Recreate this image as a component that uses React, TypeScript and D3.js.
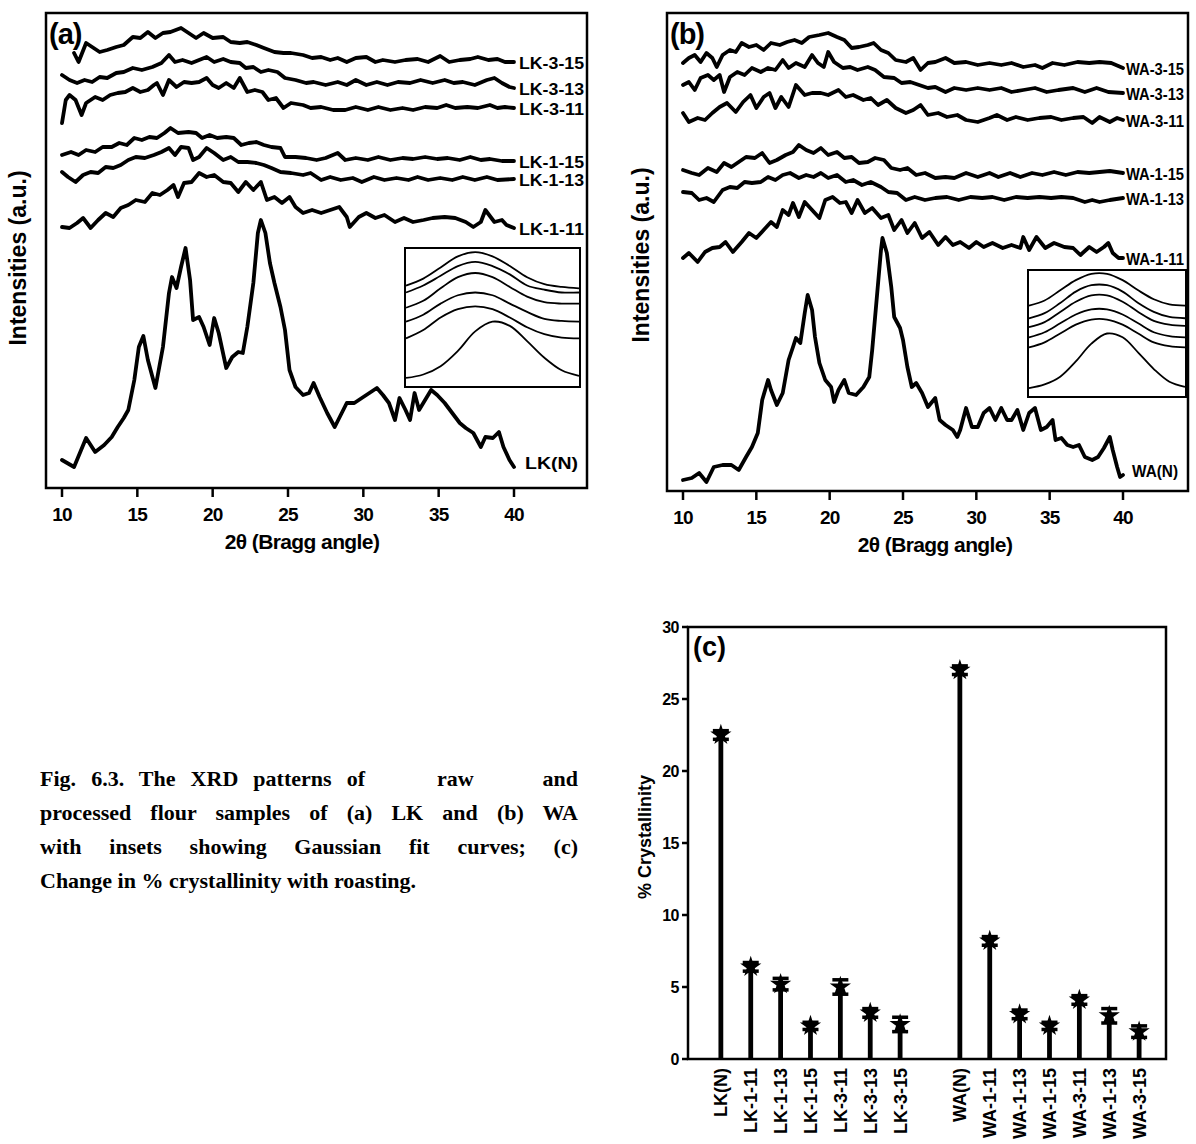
import React, { useEffect, useRef } from "react";
import * as d3 from "d3";

type Pt = [number, number];

// ---------- Panel (a): LK series (2theta, intensity a.u. incl. stacking offset) ----------
const LK_N: Pt[] = [[10.0,28],[10.8,21],[11.6,50],[12.2,36],[12.8,43],[13.3,51],[13.7,61],[14.1,70],[14.4,78],[14.8,108],[15.1,141],[15.4,152],[15.7,128],[16.2,100],[16.7,141],[17.1,195],[17.3,211],[17.6,200],[17.9,221],[18.2,240],[18.5,208],[18.7,168],[19.1,171],[19.4,161],[19.8,143],[20.1,170],[20.4,155],[20.9,120],[21.3,131],[21.7,136],[22.0,135],[22.3,161],[22.7,205],[23.0,255],[23.2,268],[23.5,255],[23.8,225],[24.1,205],[24.5,181],[24.8,158],[25.1,118],[25.5,101],[26.0,93],[26.4,95],[26.7,105],[27.1,91],[27.6,75],[28.1,61],[28.5,73],[28.9,85],[29.4,85],[29.9,90],[30.4,95],[30.9,100],[31.3,93],[31.7,85],[32.1,68],[32.4,90],[32.8,78],[33.1,68],[33.4,95],[33.7,78],[34.1,88],[34.5,98],[34.9,93],[35.4,85],[35.9,75],[36.4,65],[36.8,60],[37.3,55],[37.8,41],[38.1,51],[38.6,50],[39.0,56],[39.3,41],[39.7,28],[40.0,21]];
const LK_1_11: Pt[] = [[10.0,261],[10.5,260],[11.0,265],[11.4,270],[11.9,260],[12.4,268],[12.9,275],[13.4,271],[13.9,280],[14.4,283],[14.9,288],[15.5,286],[16.0,295],[16.5,293],[17.0,298],[17.4,303],[17.7,291],[18.1,305],[18.6,306],[19.1,315],[19.6,311],[20.1,313],[20.7,306],[21.2,305],[21.7,296],[22.2,306],[22.7,298],[23.2,306],[23.6,288],[24.1,291],[24.6,285],[25.1,291],[25.5,281],[26.0,275],[26.6,278],[27.2,275],[27.8,278],[28.4,281],[28.9,271],[29.1,261],[29.7,271],[30.2,275],[30.8,270],[31.4,273],[32.1,266],[32.7,270],[33.3,266],[34.0,268],[34.6,270],[35.4,271],[36.1,270],[36.8,266],[37.3,261],[37.8,266],[38.1,278],[38.7,266],[39.2,268],[39.5,263],[40.0,260]];
const LK_1_13: Pt[] = [[10.0,316],[10.4,311],[10.9,306],[11.4,313],[11.9,316],[12.4,315],[12.9,321],[13.4,320],[13.9,323],[14.4,328],[14.9,331],[15.5,330],[16.1,333],[16.6,336],[17.1,340],[17.5,333],[17.9,341],[18.4,340],[18.7,328],[19.1,331],[19.6,340],[20.1,335],[20.7,328],[21.2,331],[21.7,326],[22.3,326],[22.9,325],[23.4,323],[23.9,320],[24.5,316],[25.2,315],[26.0,313],[26.5,315],[27.2,308],[27.8,311],[28.5,308],[29.3,310],[29.9,306],[30.7,311],[31.4,308],[32.2,310],[33.0,308],[33.6,311],[34.3,308],[35.1,310],[35.9,308],[36.6,311],[37.4,308],[38.2,311],[38.9,308],[40.0,309]];
const LK_1_15: Pt[] = [[10.0,333],[10.6,336],[11.1,333],[11.6,338],[12.2,336],[12.7,341],[13.3,341],[13.8,345],[14.3,343],[14.8,350],[15.3,348],[15.8,351],[16.3,350],[16.8,355],[17.2,360],[17.7,355],[18.4,356],[18.9,355],[19.3,350],[19.8,353],[20.3,350],[20.9,351],[21.4,350],[21.9,343],[22.4,345],[22.9,346],[23.4,343],[23.9,341],[24.5,340],[24.8,331],[25.5,331],[26.2,330],[26.9,328],[27.5,330],[28.3,335],[28.8,328],[29.5,330],[30.3,328],[31.0,331],[31.8,328],[32.6,330],[33.3,329],[34.1,331],[34.9,329],[35.6,330],[36.4,328],[37.1,331],[37.8,328],[38.4,329],[39.2,327],[40.0,327]];
const LK_3_11: Pt[] = [[10.0,365],[10.25,388],[10.5,393],[10.9,388],[11.3,373],[11.6,385],[12.2,391],[12.7,388],[13.2,393],[13.7,395],[14.2,396],[14.7,400],[15.2,396],[15.7,398],[16.1,403],[16.3,405],[16.7,393],[17.1,408],[17.6,401],[18.1,406],[18.6,405],[19.1,406],[19.6,410],[20.0,403],[20.4,400],[20.9,405],[21.4,400],[21.8,410],[22.3,396],[22.8,398],[23.3,396],[23.7,388],[24.2,390],[24.7,380],[25.2,385],[26.0,383],[26.5,380],[27.2,381],[28.0,378],[28.8,378],[29.5,381],[30.3,378],[31.0,381],[31.8,378],[32.6,380],[33.3,378],[34.1,381],[34.9,380],[35.5,383],[36.1,380],[36.9,381],[37.6,380],[38.4,383],[38.9,380],[39.4,381],[40.0,380]];
const LK_3_13: Pt[] = [[10.0,413],[10.5,408],[11.0,405],[11.5,408],[12.0,406],[12.5,411],[13.0,410],[13.6,415],[14.1,416],[14.7,420],[15.3,418],[16.0,421],[16.6,425],[17.1,433],[17.5,426],[18.0,428],[18.6,425],[19.1,428],[19.6,431],[20.1,426],[20.7,429],[21.2,426],[21.8,425],[22.2,420],[22.7,421],[23.2,416],[23.7,418],[24.3,416],[24.8,410],[25.5,408],[26.2,405],[26.7,406],[27.5,403],[28.3,406],[28.9,403],[29.5,408],[30.2,403],[30.9,406],[31.6,403],[32.3,406],[33.1,405],[33.8,408],[34.6,405],[35.4,408],[36.0,405],[36.6,406],[37.4,403],[38.2,408],[38.7,410],[39.2,405],[39.7,401],[40.0,400]];
const LK_3_15: Pt[] = [[10.8,435],[11.1,426],[11.6,445],[12.0,441],[12.5,436],[13.0,438],[13.6,441],[14.1,443],[14.7,451],[15.2,450],[15.7,456],[16.2,450],[16.7,455],[17.2,456],[17.9,460],[18.4,455],[18.9,450],[19.4,455],[20.0,450],[20.7,451],[21.2,446],[21.8,445],[22.3,446],[22.9,443],[23.4,440],[24.1,436],[24.7,435],[25.2,435],[26.0,433],[26.6,430],[27.2,431],[27.8,428],[28.3,430],[28.9,426],[29.5,430],[30.2,431],[30.8,426],[31.3,428],[32.1,426],[32.8,428],[33.6,429],[34.3,426],[35.1,432],[35.7,426],[36.4,428],[37.1,429],[37.6,431],[38.3,428],[38.9,429],[39.4,426],[40.0,426]];

// ---------- Panel (b): WA series ----------
const WA_N: Pt[] = [[10.0,11],[10.6,13],[11.1,18],[11.6,9],[12.1,24],[12.7,26],[13.3,26],[13.8,21],[14.3,34],[14.7,44],[15.1,58],[15.4,91],[15.8,111],[16.0,101],[16.4,86],[16.8,98],[17.2,131],[17.5,144],[17.7,153],[18.0,148],[18.3,178],[18.5,196],[18.8,181],[19.0,154],[19.3,128],[19.7,111],[20.1,104],[20.3,89],[20.6,101],[21.0,111],[21.3,98],[21.8,96],[22.3,104],[22.7,114],[22.9,141],[23.2,191],[23.5,241],[23.6,253],[23.9,238],[24.2,204],[24.4,174],[24.8,163],[25.0,151],[25.3,124],[25.6,104],[25.9,108],[26.3,98],[26.7,84],[27.2,93],[27.5,71],[27.9,66],[28.4,61],[28.7,54],[28.9,61],[29.3,83],[29.7,64],[30.1,64],[30.5,78],[30.9,83],[31.3,71],[31.7,83],[32.1,71],[32.4,71],[32.8,81],[33.2,61],[33.6,78],[34.0,83],[34.4,61],[34.8,64],[35.2,71],[35.4,51],[35.8,53],[36.2,46],[36.6,44],[37.0,46],[37.4,34],[37.9,31],[38.3,34],[38.7,43],[39.1,54],[39.3,41],[39.6,24],[39.8,14],[40.0,16]];
const WA_1_11: Pt[] = [[10.0,233],[10.4,238],[11.0,229],[11.5,239],[12.0,243],[12.5,244],[12.9,249],[13.4,239],[14.0,249],[14.5,258],[15.0,253],[15.5,261],[16.0,269],[16.4,264],[16.8,281],[17.2,276],[17.5,288],[17.9,274],[18.3,289],[18.8,281],[19.3,273],[19.7,291],[20.2,294],[20.7,288],[21.1,289],[21.5,278],[21.9,291],[22.4,278],[22.9,283],[23.5,273],[24.0,276],[24.4,261],[24.9,271],[25.3,258],[25.8,268],[26.3,253],[26.8,259],[27.4,246],[27.9,254],[28.4,246],[28.9,249],[29.5,243],[30.0,249],[30.5,244],[31.1,248],[31.8,243],[32.4,246],[33.0,243],[33.2,254],[33.6,241],[34.1,254],[34.7,243],[35.3,248],[36.0,244],[36.6,243],[37.1,236],[37.7,244],[38.2,239],[38.7,244],[39.0,248],[39.3,238],[39.7,233],[40.0,233]];
const WA_1_13: Pt[] = [[10.0,299],[10.6,298],[11.1,291],[11.6,293],[12.1,289],[12.7,301],[13.2,304],[13.7,303],[14.2,309],[14.7,308],[15.3,309],[15.8,314],[16.3,311],[16.8,316],[17.3,318],[17.9,313],[18.4,316],[18.9,314],[19.4,318],[19.9,313],[20.5,316],[21.1,309],[21.6,311],[22.2,306],[22.8,309],[23.5,304],[24.0,299],[24.6,298],[25.2,291],[25.8,294],[26.5,291],[27.2,293],[28.0,294],[28.8,291],[29.6,294],[30.4,293],[31.1,294],[31.9,291],[32.7,294],[33.5,293],[34.3,294],[35.1,293],[35.8,294],[36.6,293],[37.4,289],[37.9,291],[38.4,289],[39.1,291],[40.0,293]];
const WA_1_15: Pt[] = [[10.0,321],[10.6,318],[11.1,316],[11.7,323],[12.3,319],[12.8,328],[13.3,324],[13.8,329],[14.3,334],[14.9,333],[15.4,338],[15.9,328],[16.4,331],[17.0,336],[17.5,339],[17.9,346],[18.4,341],[18.9,338],[19.4,343],[19.9,336],[20.5,339],[21.0,333],[21.5,334],[22.0,328],[22.6,329],[23.1,333],[23.7,331],[24.2,323],[24.8,321],[25.3,323],[25.9,316],[26.5,318],[27.2,313],[27.9,314],[28.5,313],[29.3,318],[30.1,314],[30.9,318],[31.5,314],[32.3,318],[33.0,314],[33.8,318],[34.5,316],[35.3,319],[36.1,316],[36.9,319],[37.7,318],[38.4,319],[39.1,320],[40.0,318]];
const WA_3_11: Pt[] = [[10.0,378],[10.4,369],[11.0,373],[11.5,371],[12.0,378],[12.5,384],[13.0,388],[13.6,379],[14.1,389],[14.6,396],[15.0,383],[15.5,394],[15.9,398],[16.3,383],[16.7,394],[17.2,384],[17.7,406],[18.3,396],[18.8,398],[19.4,398],[19.9,396],[20.6,401],[21.1,394],[21.6,396],[22.3,391],[22.8,393],[23.3,386],[23.9,391],[24.5,383],[25.2,378],[25.7,381],[26.2,386],[26.7,376],[27.4,378],[28.0,374],[28.7,376],[29.3,371],[30.1,369],[30.9,373],[31.4,376],[32.1,371],[32.7,374],[33.5,371],[34.3,373],[35.1,374],[35.8,371],[36.6,373],[37.3,374],[37.9,368],[38.4,374],[39.1,369],[39.6,373],[40.0,371]];
const WA_3_13: Pt[] = [[10.0,406],[10.4,409],[10.8,401],[11.2,413],[11.7,416],[12.1,411],[12.5,416],[12.8,399],[13.2,414],[13.7,419],[14.2,416],[14.7,423],[15.3,419],[15.8,423],[16.3,421],[16.8,431],[17.2,423],[17.7,428],[18.3,424],[18.8,436],[19.2,428],[19.6,424],[19.9,439],[20.3,429],[20.9,423],[21.4,424],[21.9,421],[22.6,424],[23.1,421],[23.7,414],[24.4,413],[24.9,408],[25.5,409],[26.1,406],[26.7,403],[27.2,404],[27.9,399],[28.5,403],[29.3,401],[30.1,403],[30.9,401],[31.7,403],[32.4,399],[33.2,401],[34.0,403],[34.8,399],[35.6,401],[36.6,403],[37.4,399],[38.2,403],[39.0,399],[40.0,398]];
const WA_3_15: Pt[] = [[10.0,428],[10.4,433],[10.8,436],[11.2,429],[11.6,438],[12.0,433],[12.3,424],[12.7,436],[13.2,441],[13.6,439],[14.0,448],[14.5,444],[15.0,446],[15.5,441],[16.0,448],[16.6,446],[17.1,449],[17.6,451],[18.1,448],[18.6,454],[19.3,456],[19.9,458],[20.5,454],[21.0,451],[21.5,443],[22.0,444],[22.6,446],[23.0,448],[23.5,441],[24.0,438],[24.5,431],[25.2,429],[25.7,433],[26.2,421],[26.7,428],[27.2,429],[27.9,433],[28.5,428],[29.3,429],[30.1,426],[30.9,428],[31.7,426],[32.4,428],[33.2,424],[34.0,426],[34.5,423],[35.2,428],[36.0,426],[36.9,429],[37.7,428],[38.4,429],[39.2,428],[40.0,423]];

const LK_SERIES = [
  { name: "LK-3-15", data: LK_3_15 },
  { name: "LK-3-13", data: LK_3_13 },
  { name: "LK-3-11", data: LK_3_11 },
  { name: "LK-1-15", data: LK_1_15 },
  { name: "LK-1-13", data: LK_1_13 },
  { name: "LK-1-11", data: LK_1_11 },
  { name: "LK(N)", data: LK_N },
];
const WA_SERIES = [
  { name: "WA-3-15", data: WA_3_15 },
  { name: "WA-3-13", data: WA_3_13 },
  { name: "WA-3-11", data: WA_3_11 },
  { name: "WA-1-15", data: WA_1_15 },
  { name: "WA-1-13", data: WA_1_13 },
  { name: "WA-1-11", data: WA_1_11 },
  { name: "WA(N)", data: WA_N },
];

const X_TICKS = [10, 15, 20, 25, 30, 35, 40];

// ---------- Insets: Gaussian fit curves (relative position 0-100, a.u.) ----------
const INSET_X = [0, 10, 20, 30, 40, 50, 60, 70, 80, 90, 100];
const LK_INSET = [
  [73, 78, 86, 94, 97, 94, 87, 79, 74, 72, 71],
  [68, 73, 80, 87, 90, 87, 81, 73, 70, 68, 68],
  [57, 62, 71, 79, 82, 79, 72, 65, 61, 60, 60],
  [47, 52, 60, 66, 68, 66, 60, 54, 49, 47.5, 47],
  [35, 41, 50, 56, 58, 56, 50, 43, 38, 35.5, 35],
  [6.5, 9, 15, 26, 40, 47, 44, 33, 21, 12, 8],
];
const WA_INSET = [
  [72, 76, 84, 92, 97, 97, 92, 84, 77, 73, 72],
  [62, 66, 74, 83, 88, 88, 83, 74, 67, 63, 62],
  [55, 59, 67, 75, 80, 80, 75, 67, 60, 57, 56],
  [47, 51, 58, 65, 69, 69, 65, 58, 51, 48, 47],
  [39, 43, 50, 57, 61, 61, 57, 50, 43, 40, 39],
  [7, 10, 16, 28, 42, 50, 47, 35, 22, 12, 8],
];

// ---------- Panel (c): % crystallinity ----------
const CATEGORIES = ["LK(N)", "LK-1-11", "LK-1-13", "LK-1-15", "LK-3-11", "LK-3-13", "LK-3-15", "WA(N)", "WA-1-11", "WA-1-13", "WA-1-15", "WA-3-11", "WA-1-13", "WA-3-15"];
const CRYSTALLINITY = [22.5, 6.4, 5.2, 2.3, 5.0, 3.2, 2.4, 27.0, 8.2, 3.1, 2.3, 4.1, 3.0, 1.9];
const CRYST_ERR = [0.3, 0.3, 0.4, 0.25, 0.5, 0.3, 0.5, 0.3, 0.3, 0.3, 0.25, 0.3, 0.5, 0.4];
const Y_TICKS_C = [0, 5, 10, 15, 20, 25, 30];

const SANS = "'Liberation Sans', Arial, sans-serif";
const SERIF = "'Liberation Serif', 'Times New Roman', serif";

type PanelProps = {
  left: number; right: number; top: number; bottom: number;
  x10: number; x40: number; yMax: number;
  series: { name: string; data: Pt[] }[];
  letter: string;
  inset: { l: number; r: number; t: number; b: number; curves: number[][] };
  titleX: number; yTitleX: number; yTitleY: number;
  labelX: number; labelW: number;
};

function XrdPanel(p: PanelProps) {
  const x = d3.scaleLinear().domain([10, 40]).range([p.x10, p.x40]);
  const y = d3.scaleLinear().domain([0, p.yMax]).range([p.bottom, p.top]);
  const line = d3.line<Pt>().x((d) => x(d[0])).y((d) => y(d[1])).curve(d3.curveLinear);
  const ix = d3.scaleLinear().domain([0, 100]).range([p.inset.l + 1, p.inset.r - 1]);
  const iy = d3.scaleLinear().domain([0, 100]).range([p.inset.b, p.inset.t]);
  const iline = d3.line<number>().x((_, i) => ix(INSET_X[i])).y((d) => iy(d)).curve(d3.curveCatmullRom);
  return (
    <g>
      {p.series.map((s) => (
        <path key={s.name} d={line(s.data) || ""} fill="none" stroke="#000" strokeWidth={3.8} strokeLinejoin="round" strokeLinecap="round" />
      ))}
      {p.series.map((s) => {
        const last = s.data[s.data.length - 1];
        const isN = s.name.includes("(N)");
        return (
          <text key={"l" + s.name} x={isN ? p.labelX + 6 : p.labelX} y={y(last[1]) + (isN ? -2 : 3)} dominantBaseline="middle"
            fontFamily={SANS} fontWeight="bold" fontSize={isN ? 17 : 16} textLength={isN ? p.labelW - 12 : p.labelW} lengthAdjust="spacingAndGlyphs">
            {s.name}
          </text>
        );
      })}
      {/* inset */}
      <rect x={p.inset.l} y={p.inset.t} width={p.inset.r - p.inset.l} height={p.inset.b - p.inset.t} fill="#fff" stroke="#000" strokeWidth={2} />
      {p.inset.curves.map((c, i) => (
        <path key={"i" + i} d={iline(c) || ""} fill="none" stroke="#000" strokeWidth={1.8} />
      ))}
      {/* frame */}
      <rect x={p.left} y={p.top} width={p.right - p.left} height={p.bottom - p.top} fill="none" stroke="#000" strokeWidth={2.5} />
      {X_TICKS.map((t) => (
        <g key={t}>
          <line x1={x(t)} x2={x(t)} y1={p.bottom} y2={p.bottom + 9} stroke="#000" strokeWidth={2.5} />
          <text x={x(t)} y={p.bottom + 33} textAnchor="middle" fontFamily={SANS} fontWeight="bold" fontSize={19} letterSpacing={-0.8}>{t}</text>
        </g>
      ))}
      <text x={p.titleX} y={p.bottom + 61} textAnchor="middle" fontFamily={SANS} fontWeight="bold" fontSize={21} letterSpacing={-0.6}>2θ (Bragg angle)</text>
      <text transform={`translate(${p.yTitleX},${p.yTitleY}) rotate(-90)`} textAnchor="middle" dominantBaseline="middle" fontFamily={SANS} fontWeight="bold" fontSize={23}>Intensities (a.u.)</text>
      <text x={p.left + 3} y={p.top + 31} fontFamily={SANS} fontWeight="bold" fontSize={29} letterSpacing={-1}>{p.letter}</text>
    </g>
  );
}

function CrystPanel() {
  const left = 688, right = 1166, top = 627, bottom = 1059;
  const slot = (i: number) => i + (i >= 7 ? 1 : 0);
  const x = d3.scaleLinear().domain([-1.1, 14.9]).range([left, right]);
  const y = d3.scaleLinear().domain([0, 30]).range([bottom, top]);
  const star = d3.symbol().type(d3.symbolStar).size(140)() || "";
  return (
    <g>
      {CRYSTALLINITY.map((v, i) => {
        const cx = x(slot(i));
        const e = CRYST_ERR[i];
        return (
          <g key={i}>
            <line x1={cx} x2={cx} y1={y(0)} y2={y(v)} stroke="#000" strokeWidth={4.8} />
            <line x1={cx} x2={cx} y1={y(v - e)} y2={y(v + e)} stroke="#000" strokeWidth={3} />
            <line x1={cx - 8} x2={cx + 8} y1={y(v + e)} y2={y(v + e)} stroke="#000" strokeWidth={3.5} />
            <line x1={cx - 8} x2={cx + 8} y1={y(v - e)} y2={y(v - e)} stroke="#000" strokeWidth={3.5} />
            <path d={star} transform={`translate(${cx},${y(v)})`} fill="#000" />
            <text transform={`translate(${cx + 6.5},${bottom + 9}) rotate(-90)`} textAnchor="end" fontFamily={SANS} fontWeight="bold" fontSize={18}>{CATEGORIES[i]}</text>
          </g>
        );
      })}
      <rect x={left} y={top} width={right - left} height={bottom - top} fill="none" stroke="#000" strokeWidth={2.5} />
      {Y_TICKS_C.map((t) => (
        <g key={t}>
          <line x1={left - 6} x2={left} y1={y(t)} y2={y(t)} stroke="#000" strokeWidth={2.5} />
          <text x={left - 9} y={y(t) + 6} textAnchor="end" fontFamily={SANS} fontWeight="bold" fontSize={16} letterSpacing={-0.5}>{t}</text>
        </g>
      ))}
      <text transform={`translate(646,837) rotate(-90)`} textAnchor="middle" dominantBaseline="middle" fontFamily={SANS} fontWeight="bold" fontSize={18}>% Crystallinity</text>
      <text x={left + 5} y={top + 29} fontFamily={SANS} fontWeight="bold" fontSize={27}>(c)</text>
    </g>
  );
}

export default function App() {
  const capRef = useRef<SVGGElement>(null);
  useEffect(() => {
    document.body.style.margin = "0";
    const g = capRef.current;
    if (!g) return;
    g.querySelectorAll("text[data-w]").forEach((node) => {
      const t = node as SVGTextElement;
      const target = Number(t.getAttribute("data-w"));
      const n = (t.textContent || "").split(" ").length - 1;
      t.setAttribute("word-spacing", "0");
      const w = t.getComputedTextLength();
      if (n > 0) t.setAttribute("word-spacing", String((target - w) / n));
    });
  }, []);

  return (
    <svg width={1196} height={1144} style={{ position: "absolute", left: 0, top: 0, background: "#fff" }}>
      <rect width={1196} height={1144} fill="#fff" />
      <XrdPanel left={46} right={587} top={13} bottom={488} x10={62} x40={514} yMax={475}
        series={LK_SERIES} letter="(a)"
        inset={{ l: 405, r: 580, t: 248, b: 387, curves: LK_INSET }}
        titleX={302} yTitleX={20} yTitleY={258} labelX={519} labelW={65} />
      <XrdPanel left={667} right={1188} top={13} bottom={491} x10={683} x40={1123} yMax={478}
        series={WA_SERIES} letter="(b)"
        inset={{ l: 1028, r: 1186, t: 270, b: 397, curves: WA_INSET }}
        titleX={935} yTitleX={643} yTitleY={255} labelX={1126} labelW={58} />
      <CrystPanel />
      <g ref={capRef} fontFamily={SERIF} fontWeight="bold" fontSize={22}>
        <text x={40} y={786} data-w={325}>Fig. 6.3. The XRD patterns of</text>
        <text x={437} y={786}>raw</text>
        <text x={578} y={786} textAnchor="end">and</text>
        <text x={40} y={820} data-w={538}>processed flour samples of (a) LK and (b) WA</text>
        <text x={40} y={854} data-w={538}>with insets showing Gaussian fit curves; (c)</text>
        <text x={40} y={888}>Change in % crystallinity with roasting.</text>
      </g>
    </svg>
  );
}
